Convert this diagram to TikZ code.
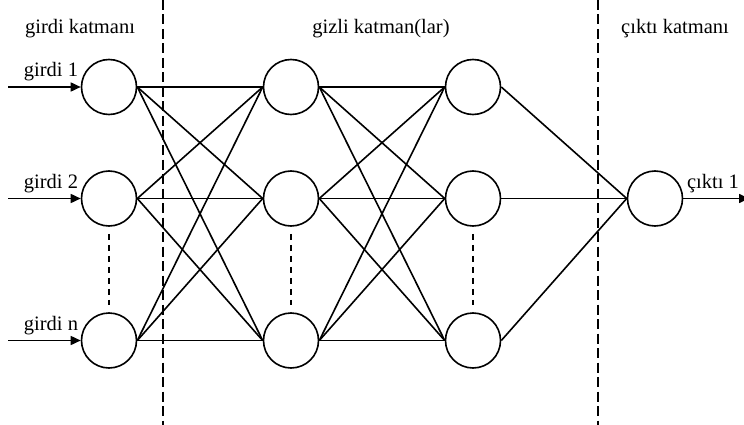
\documentclass[tikz,border=0pt]{standalone}
\usepackage{fontspec}
\setmainfont{Liberation Serif}
\usetikzlibrary{arrows.meta}
\begin{document}
\begin{tikzpicture}[x=1pt,y=-1pt,
  neuron/.style={circle,draw,line width=1.6pt,minimum size=55pt,inner sep=0pt},
  conn/.style={line width=1.6pt},
  inarrow/.style={line width=1.6pt,-{Triangle[length=10pt,width=9pt]}},
  layersep/.style={line width=1.8pt,dash pattern=on 10pt off 4.5pt},
  dots/.style={line width=1.7pt,dash pattern=on 6pt off 5pt},
  lbl/.style={font=\fontsize{20.5}{22}\selectfont,inner sep=0pt}]
\useasboundingbox (0,0) rectangle (744,425);
% layer separators
\coordinate (s1t) at (163,0); \coordinate (s1b) at (163,425);
\coordinate (s2t) at (598,0); \coordinate (s2b) at (598,425);
\draw[layersep] (s1t) -- (s1b);
\draw[layersep] (s2t) -- (s2b);
% headers
\node[lbl,anchor=base] (h1) at (80,34) {girdi katmanı};
\node[lbl,anchor=base] (h2) at (381,34) {gizli katman(lar)};
\node[lbl,anchor=base] (h3) at (675,34) {çıktı katmanı};
% neurons
\foreach \c/\x in {a/109,b/291,c/473}{
  \node[neuron] (\c1) at (\x,87) {};
  \node[neuron] (\c2) at (\x,198.5) {};
  \node[neuron] (\c3) at (\x,340.5) {};
  \draw[dots] ([yshift=-7pt]\c2.south) -- ([yshift=7pt]\c3.north);
}
\node[neuron] (o1) at (655,198.5) {};
% connections
\foreach \i in {1,2,3}{
  \foreach \j in {1,2,3}{
    \draw[conn] (a\i.east) -- (b\j.west);
    \draw[conn] (b\i.east) -- (c\j.west);
  }
  \draw[conn] (c\i.east) -- (o1.west);
}
% inputs
\coordinate (i1) at (8,87);
\coordinate (i2) at (8,198.5);
\coordinate (i3) at (8,340.5);
\draw[inarrow] (i1) -- (a1.west);
\draw[inarrow] (i2) -- (a2.west);
\draw[inarrow] (i3) -- (a3.west);
\node[lbl,anchor=base] (l1) at (51,77) {girdi 1};
\node[lbl,anchor=base] (l2) at (51,188.5) {girdi 2};
\node[lbl,anchor=base] (l3) at (51,330.5) {girdi n};
% output
\coordinate (out) at (749,198.5);
\draw[inarrow] (o1.east) -- (out);
\node[lbl,anchor=base] (lo) at (713,188.5) {çıktı 1};
\end{tikzpicture}
\end{document}
